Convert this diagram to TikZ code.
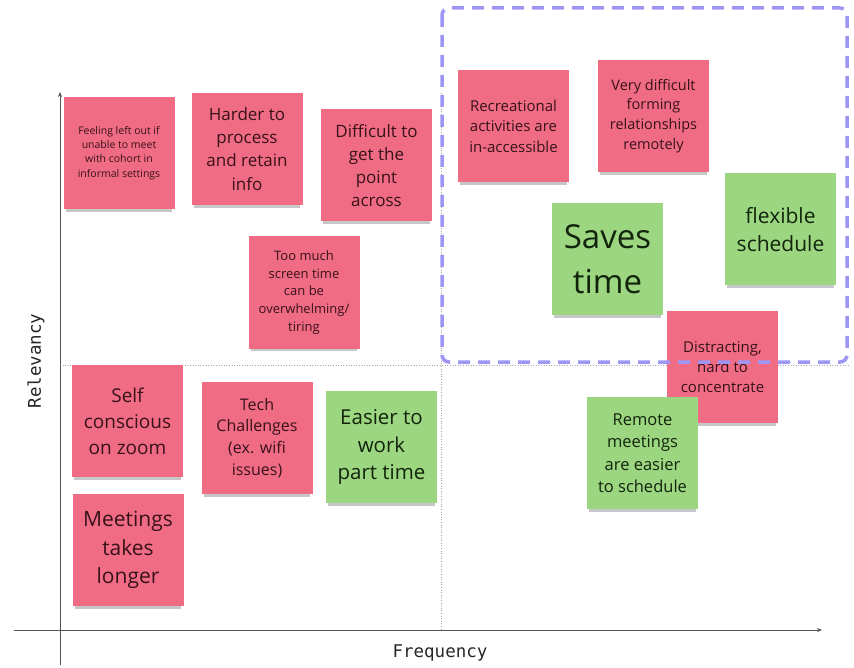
\documentclass[tikz,border=0pt]{standalone}
\usepackage{fontspec}
\setmainfont{Open Sans}
\newfontfamily\axisfont{DejaVu Sans Mono}
\usetikzlibrary{shadows,arrows.meta}
\definecolor{notepink}{RGB}{240,108,132}
\definecolor{notegreen}{RGB}{156,214,128}
\definecolor{pinktext}{RGB}{55,18,26}
\definecolor{greentext}{RGB}{18,36,12}
\definecolor{boxpurple}{RGB}{158,150,245}
\definecolor{axisgray}{RGB}{85,85,85}
\newcommand{\fs}[1]{\fontsize{#1}{1.36\dimexpr#1pt\relax}\selectfont}
\tikzset{
  note/.style={minimum width=111pt, minimum height=112pt, inner sep=0pt, align=center,
    drop shadow={shadow xshift=0pt, shadow yshift=-5pt, opacity=0.22, fill=black, shadow scale=0.96}},
  pinknote/.style={note, fill=notepink, text=pinktext},
  greennote/.style={note, fill=notegreen, text=greentext},
  axisline/.style={draw=axisgray, line width=0.8pt, -{Stealth[length=5pt,width=4pt]}},
  midline/.style={draw=gray!70, line width=0.6pt, dotted},
  axislabel/.style={text=black!85, font=\axisfont\fontsize{17.5}{20}\selectfont},
  focusbox/.style={draw=boxpurple, line width=3.5pt, dash pattern=on 12pt off 8pt, rounded corners=7pt}
}
\begin{document}
\begin{tikzpicture}[x=1pt,y=-1pt]
\useasboundingbox (0,0) rectangle (854,668);
% coordinates
\coordinate (ybot) at (60,665);
\coordinate (ytop) at (60,92);
\coordinate (xl) at (14,630);
\coordinate (xr) at (822,630);
\coordinate (hm1) at (60,365);
\coordinate (hm2) at (850,365);
\coordinate (vm1) at (441,93);
\coordinate (vm2) at (441,630);
\coordinate (b1) at (442,8);
\coordinate (b2) at (847,362);
% mid lines and axes
\draw[midline] (hm1) -- (hm2);
\draw[midline] (vm1) -- (vm2);
\draw[axisline] (ybot) -- (ytop);
\draw[axisline] (xl) -- (xr);
\node[axislabel] (xlab) at (440,653) {Frequency};
\node[axislabel, rotate=90] (ylab) at (36,361) {Relevancy};
% notes
\node[pinknote, font=\fs{10.5}] (n1) at (119,153) {Feeling left out if\\unable to meet\\with cohort in\\informal settings};
\node[pinknote, font=\fs{17}] (n2) at (247,149) {Harder to\\process\\and retain\\info};
\node[pinknote, font=\fs{17}] (n3) at (376.5,165.5) {Difficult to\\get the\\point\\across};
\node[pinknote, font=\fs{13}] (n4) at (304,292.5) {Too much\\screen time\\can be\\overwhelming/\\tiring};
\node[pinknote, font=\fs{15}] (n5) at (513.5,126) {Recreational\\activities are\\in-accessible};
\node[pinknote, font=\fs{14.5}] (n6) at (653.5,116) {Very difficult\\forming\\relationships\\remotely};
\node[greennote, font=\fs{33}] (n7) at (607.5,259.5) {Saves\\time};
\node[greennote, font=\fs{21}] (n8) at (780.5,229.5) {flexible\\schedule};
\node[pinknote, font=\fs{15}] (n9) at (722.5,367) {Distracting,\\hard to\\concentrate};
\node[greennote, font=\fs{16.5}] (n10) at (642.5,453) {Remote\\meetings\\are easier\\to schedule};
\node[pinknote, font=\fs{19}] (n11) at (127.5,421) {Self\\conscious\\on zoom};
\node[pinknote, font=\fs{16}] (n12) at (257,438) {Tech\\Challenges\\(ex. wifi\\issues)};
\node[greennote, font=\fs{20.5}] (n13) at (381.5,447) {Easier to\\work\\part time};
\node[pinknote, font=\fs{21}] (n14) at (128,550) {Meetings\\takes\\longer};
% focus box
\draw[focusbox] (b1) rectangle (b2);
\end{tikzpicture}
\end{document}
